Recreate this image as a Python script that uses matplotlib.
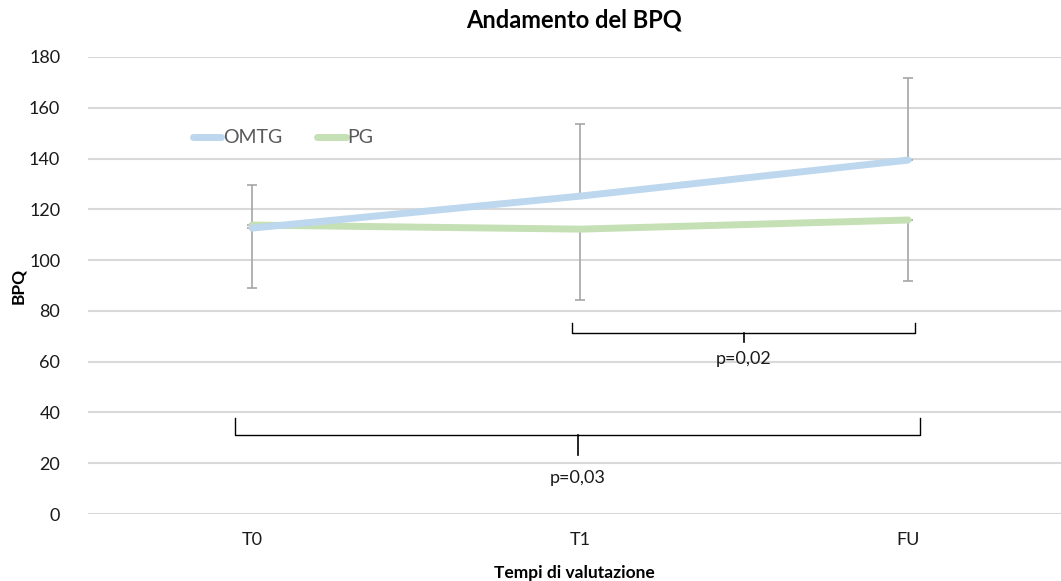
import matplotlib
matplotlib.use("Agg")
import matplotlib.pyplot as plt
import numpy as np
from matplotlib.lines import Line2D

plt.rcParams['font.family'] = ['Lato', 'DejaVu Sans']

# ---- data ----
categories = ["T0", "T1", "FU"]
omtg = [112.6, 125.2, 139.4]
pg = [113.8, 112.2, 115.8]
omtg_err_plus = [17.0, 28.4, 32.2]
pg_err_minus = [24.8, 27.9, 24.0]
yticks = list(range(0, 181, 20))
series_names = ["OMTG", "PG"]
pvals = ["p=0,02", "p=0,03"]

# bracket annotations (x from, x to, top y, bar y, tip y, text y)
brackets = [
    (0.976, 2.021, 75.2, 71.3, 67.7, 61.0),
    (-0.052, 2.037, 37.8, 31.1, 23.2, 14.2),
]

c_blue = "#bdd7ee"
c_green = "#c5e0b4"
c_err = "#a6a6a6"
c_grid = "#d9d9d9"

fig = plt.figure(figsize=(10.61, 5.81), dpi=100)
ax = fig.add_axes([0.0829, 0.1153, 1 - 0.0829, 0.9019 - 0.1153])

x = np.arange(len(categories))
zeros = [0] * len(categories)

ax.errorbar(x, omtg, yerr=[zeros, omtg_err_plus], fmt='none', ecolor=c_err,
            elinewidth=1.2, capsize=3.5, capthick=1.2, zorder=2)
ax.errorbar(x, pg, yerr=[pg_err_minus, zeros], fmt='none', ecolor=c_err,
            elinewidth=1.2, capsize=3.5, capthick=1.2, zorder=2)

ax.plot(x, pg, color=c_green, lw=5, solid_capstyle='round', zorder=3, label=series_names[1])
ax.plot(x, omtg, color=c_blue, lw=5, solid_capstyle='round', zorder=4, label=series_names[0])

ax.set_xlim(-0.5, 2.466)
ax.set_ylim(0, 180)
ax.set_yticks(yticks)
ax.set_xticks(x)
ax.set_xticklabels(categories)
ax.yaxis.grid(True, color=c_grid, lw=1.5)
ax.set_axisbelow(True)
for s in ax.spines.values():
    s.set_visible(False)
ax.tick_params(length=0, labelsize=13, colors='#1a1a1a')
ax.tick_params(axis='y', pad=20)
ax.tick_params(axis='x', pad=13)

ax.set_title("Andamento del BPQ", fontsize=17, fontweight='bold', pad=21)
ax.set_ylabel("BPQ", fontsize=12.5, fontweight='bold', labelpad=2)
ax.set_xlabel("Tempi di valutazione", fontsize=12.5, fontweight='bold', labelpad=12)

handles = [Line2D([0], [0], color=c_blue, lw=5, solid_capstyle='round'),
           Line2D([0], [0], color=c_green, lw=5, solid_capstyle='round')]
leg = ax.legend(handles, series_names, loc='upper left', bbox_to_anchor=(0.09, 0.88),
                ncol=2, frameon=False, fontsize=14, handlelength=1.45,
                handletextpad=0.1, columnspacing=1.8)
for t in leg.get_texts():
    t.set_color('#595959')

for (x0, x1, ytop, ybar, ytip, ytext), label in zip(brackets, pvals):
    xm = (x0 + x1) / 2
    ax.plot([x0, x0, x1, x1], [ytop, ybar, ybar, ytop], color='black', lw=1.0, zorder=5)
    ax.plot([xm, xm], [ybar, ytip], color='black', lw=1.2, zorder=5)
    ax.text(xm, ytext, label, ha='center', va='center', fontsize=13, color='#1a1a1a')

fig.savefig("out.png", dpi=100)
